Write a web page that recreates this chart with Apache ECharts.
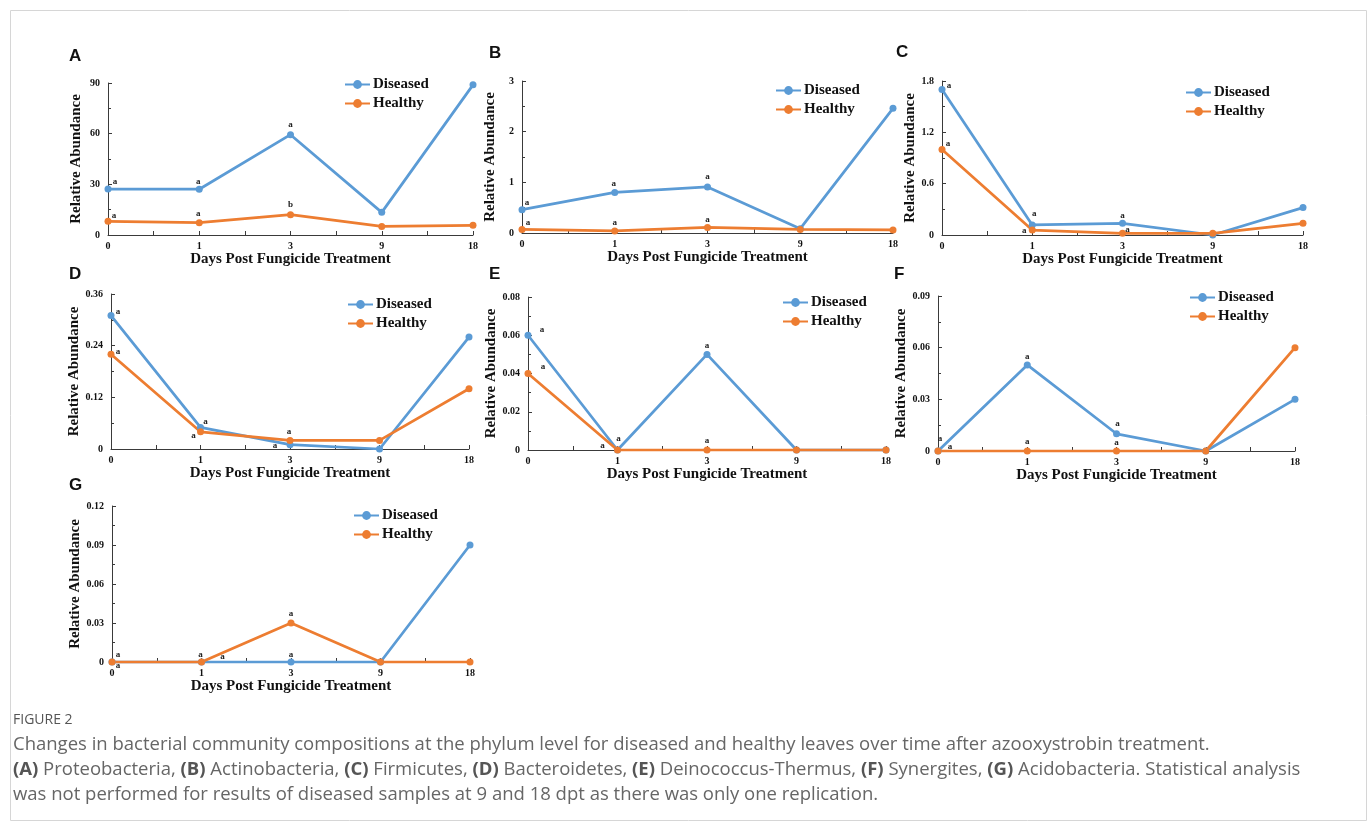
<!DOCTYPE html>
<html>
<head>
<meta charset="utf-8">
<script src="https://cdn.jsdelivr.net/npm/echarts@6/dist/echarts.min.js"></script>
<style>
  html, body { margin: 0; padding: 0; background: #fff; }
  #chart { width: 1372px; height: 828px; }
</style>
</head>
<body>
<div id="chart"></div>
<script>
// Sampling days after fungicide treatment
const days = ['0', '1', '3', '9', '18'];

// Relative abundance per phylum
const proteoDiseased = [27.2, 27.1, 59.4, 13.4, 88.9];
const proteoHealthy  = [8.1, 7.3, 12.0, 5.1, 5.7];
const actinoDiseased = [0.46, 0.80, 0.91, 0.085, 2.46];
const actinoHealthy  = [0.07, 0.04, 0.11, 0.07, 0.06];
const firmiDiseased  = [1.70, 0.117, 0.136, 0, 0.32];
const firmiHealthy   = [1.00, 0.058, 0.02, 0.02, 0.136];
const bactDiseased   = [0.31, 0.05, 0.01, 0, 0.26];
const bactHealthy    = [0.22, 0.04, 0.02, 0.02, 0.14];
const deinoDiseased  = [0.06, 0, 0.05, 0, 0];
const deinoHealthy   = [0.04, 0, 0, 0, 0];
const synerDiseased  = [0, 0.05, 0.01, 0, 0.03];
const synerHealthy   = [0, 0, 0, 0, 0.06];
const acidoDiseased  = [0, 0, 0, 0, 0.09];
const acidoHealthy   = [0, 0, 0.03, 0, 0];

// Significance letters (empty = no test)
const proteoDiseasedLetters = ['a', 'a', 'a', '', ''];
const proteoHealthyLetters  = ['a', 'a', 'b', '', ''];
const actinoDiseasedLetters = ['a', 'a', 'a', '', ''];
const actinoHealthyLetters  = ['a', 'a', 'a', '', ''];
const firmiDiseasedLetters  = ['a', 'a', 'a', '', ''];
const firmiHealthyLetters   = ['a', 'a', 'a', '', ''];
const bactDiseasedLetters   = ['a', 'a', 'a', '', ''];
const bactHealthyLetters    = ['a', 'a', 'a', '', ''];
const deinoDiseasedLetters  = ['a', 'a', 'a', '', ''];
const deinoHealthyLetters   = ['a', 'a', 'a', '', ''];
const synerDiseasedLetters  = ['a', 'a', 'a', '', ''];
const synerHealthyLetters   = ['a', 'a', 'a', '', ''];
const acidoDiseasedLetters  = ['a', 'a', 'a', '', ''];
const acidoHealthyLetters   = ['a', 'a', 'a', '', ''];

// Y-axis tick labels
const yMax  = [90, 3, 1.8, 0.36, 0.08, 0.09, 0.12];
const yStep = [30, 1, 0.6, 0.12, 0.02, 0.03, 0.03];

const panelLetters = ['A', 'B', 'C', 'D', 'E', 'F', 'G'];

const panels = [
  { d: proteoDiseased, h: proteoHealthy, dl: proteoDiseasedLetters, hl: proteoHealthyLetters },
  { d: actinoDiseased, h: actinoHealthy, dl: actinoDiseasedLetters, hl: actinoHealthyLetters },
  { d: firmiDiseased,  h: firmiHealthy,  dl: firmiDiseasedLetters,  hl: firmiHealthyLetters },
  { d: bactDiseased,   h: bactHealthy,   dl: bactDiseasedLetters,   hl: bactHealthyLetters },
  { d: deinoDiseased,  h: deinoHealthy,  dl: deinoDiseasedLetters,  hl: deinoHealthyLetters },
  { d: synerDiseased,  h: synerHealthy,  dl: synerDiseasedLetters,  hl: synerHealthyLetters },
  { d: acidoDiseased,  h: acidoHealthy,  dl: acidoDiseasedLetters,  hl: acidoHealthyLetters }
];

// ---- layout (pixels) ----
const grids = [
  { left: 108, top: 83,  width: 365, height: 152 },
  { left: 522, top: 81,  width: 371, height: 152 },
  { left: 942, top: 81,  width: 361, height: 154 },
  { left: 111, top: 294, width: 358, height: 155 },
  { left: 528, top: 297, width: 358, height: 153 },
  { left: 938, top: 296, width: 357, height: 155 },
  { left: 112, top: 506, width: 358, height: 156 }
];
const legendPos = [
  { left: 344, top: 77 },
  { left: 775, top: 83 },
  { left: 1185, top: 85 },
  { left: 347, top: 297 },
  { left: 782, top: 295 },
  { left: 1189, top: 290 },
  { left: 353, top: 508 }
];
const letterPos = [
  { x: 69, y: 48 }, { x: 489, y: 45 }, { x: 896, y: 44 },
  { x: 69, y: 266 }, { x: 489, y: 266 }, { x: 894, y: 266 },
  { x: 69, y: 477 }
];
// label offsets [dx, dy] of the significance letters around each point
const dOffsets = [
  [[7, -7], [-1, -8], [0, -10]],
  [[5, -7], [-1, -9], [0, -10]],
  [[7, -4], [2, -11], [0, -8]],
  [[7, -4], [5, -6], [-15, 1]],
  [[14, -6], [1, -11], [0, -9]],
  [[2, -12], [0, -8], [1, -10]],
  [[6, 4], [21, -5], [0, -7]]
];
const hOffsets = [
  [[6, -6], [-1, -9], [0, -10]],
  [[6, -7], [0, -8], [0, -8]],
  [[6, -6], [-8, 1], [5, -4]],
  [[7, -3], [-7, 4], [-1, -9]],
  [[15, -7], [-15, -4], [0, -9]],
  [[12, -4], [0, -9], [0, -8]],
  [[6, -7], [-1, -7], [0, -9]]
];

const BLUE = '#5B9BD5';
const ORANGE = '#ED7D31';
const SERIF = '"Liberation Serif", "Times New Roman", serif';

function pointData(values, letters, offsets) {
  return values.map((v, i) => {
    const item = { value: [i, v] };
    if (letters[i]) {
      item.label = {
        show: true,
        formatter: letters[i],
        position: 'inside',
        offset: offsets[i] || [0, -8]
      };
    }
    return item;
  });
}

const option = {
  animation: false,
  backgroundColor: '#fff',
  grid: [],
  xAxis: [],
  yAxis: [],
  legend: [],
  series: [],
  graphic: []
};

panels.forEach((p, k) => {
  option.grid.push(Object.assign({ containLabel: false }, grids[k]));

  option.xAxis.push({
    type: 'value',
    gridIndex: k,
    min: 0,
    max: days.length - 1,
    interval: 1,
    name: 'Days Post Fungicide Treatment',
    nameLocation: 'middle',
    nameGap: 10,
    nameTextStyle: { fontFamily: SERIF, fontWeight: 'bold', fontSize: 15, color: '#111', verticalAlign: 'top' },
    axisLine: { show: true, lineStyle: { color: '#3a3a3a', width: 1 } },
    axisTick: { show: true, inside: true, length: 4, lineStyle: { color: '#3a3a3a' } },
    minorTick: { show: true, splitNumber: 2, length: 4, lineStyle: { color: '#3a3a3a' } },
    splitLine: { show: false },
    axisLabel: {
      fontFamily: SERIF, fontWeight: 'bold', fontSize: 10, color: '#111', margin: 6,
      formatter: v => (Number.isInteger(v) ? days[v] : '')
    }
  });

  option.yAxis.push({
    type: 'value',
    gridIndex: k,
    min: 0,
    max: yMax[k],
    interval: yStep[k],
    name: 'Relative Abundance',
    nameLocation: 'middle',
    nameGap: 24,
    nameRotate: 90,
    nameTextStyle: { fontFamily: SERIF, fontWeight: 'bold', fontSize: 15, color: '#111' },
    axisLine: { show: true, lineStyle: { color: '#3a3a3a', width: 1 } },
    axisTick: { show: true, inside: true, length: 4, lineStyle: { color: '#3a3a3a' } },
    minorTick: { show: true, splitNumber: 2, length: 3, lineStyle: { color: '#3a3a3a' } },
    splitLine: { show: false },
    axisLabel: { fontFamily: SERIF, fontWeight: 'bold', fontSize: 10, color: '#111', margin: 8 }
  });

  option.legend.push({
    left: legendPos[k].left,
    top: legendPos[k].top,
    padding: 0,
    orient: 'vertical',
    itemWidth: 25,
    itemHeight: 11,
    itemGap: 4,
    selectedMode: false,
    data: ['Diseased', 'Healthy'],
    textStyle: { fontFamily: SERIF, fontWeight: 'bold', fontSize: 15, lineHeight: 15, color: '#111', padding: [0, 0, 0, -2] }
  });

  const common = {
    type: 'line',
    xAxisIndex: k,
    yAxisIndex: k,
    symbol: 'circle',
    symbolSize: 7,
    label: { fontFamily: SERIF, fontWeight: 'bold', fontSize: 9, color: '#222' },
    emphasis: { disabled: true }
  };
  option.series.push(Object.assign({}, common, {
    name: 'Diseased',
    color: BLUE,
    lineStyle: { width: 2.75, color: BLUE },
    itemStyle: { color: BLUE },
    data: pointData(p.d, p.dl, dOffsets[k])
  }));
  option.series.push(Object.assign({}, common, {
    name: 'Healthy',
    color: ORANGE,
    lineStyle: { width: 2.75, color: ORANGE },
    itemStyle: { color: ORANGE },
    data: pointData(p.h, p.hl, hOffsets[k])
  }));

  option.graphic.push({
    type: 'text',
    left: letterPos[k].x,
    top: letterPos[k].y,
    style: {
      text: panelLetters[k],
      font: 'bold 17px "Liberation Sans", Arial, sans-serif',
      fill: '#111'
    }
  });
});

// Frame around the figure and the caption
option.graphic.push({
  type: 'rect',
  left: 8, top: 8,
  shape: { width: 1356, height: 810 },
  style: { fill: 'none', stroke: '#d6d6d6', lineWidth: 1 },
  z: -1
});
option.graphic.push({
  type: 'text',
  left: 13, top: 713,
  style: { text: 'FIGURE 2', font: '14px "Open Sans", sans-serif', fill: '#555' }
});
const capFont = '"Open Sans", sans-serif';
option.graphic.push({
  type: 'text',
  left: 13, top: 732,
  style: {
    text: 'Changes in bacterial community compositions at the phylum level for diseased and healthy leaves over time after azooxystrobin treatment.\n' +
      '{b|(A)} Proteobacteria, {b|(B)} Actinobacteria, {b|(C)} Firmicutes, {b|(D)} Bacteroidetes, {b|(E)} Deinococcus-Thermus, {b|(F)} Synergites, {b|(G)} Acidobacteria. Statistical analysis\n' +
      'was not performed for results of diseased samples at 9 and 18 dpt as there was only one replication.',
    fontFamily: capFont,
    fontSize: 18.5,
    lineHeight: 25,
    fill: '#666',
    rich: { b: { fontFamily: capFont, fontSize: 18.5, fontWeight: 'bold', fill: '#555', lineHeight: 25 } }
  }
});

const chart = echarts.init(document.getElementById('chart'), null, { renderer: 'canvas' });
chart.setOption(option);
</script>
</body>
</html>
